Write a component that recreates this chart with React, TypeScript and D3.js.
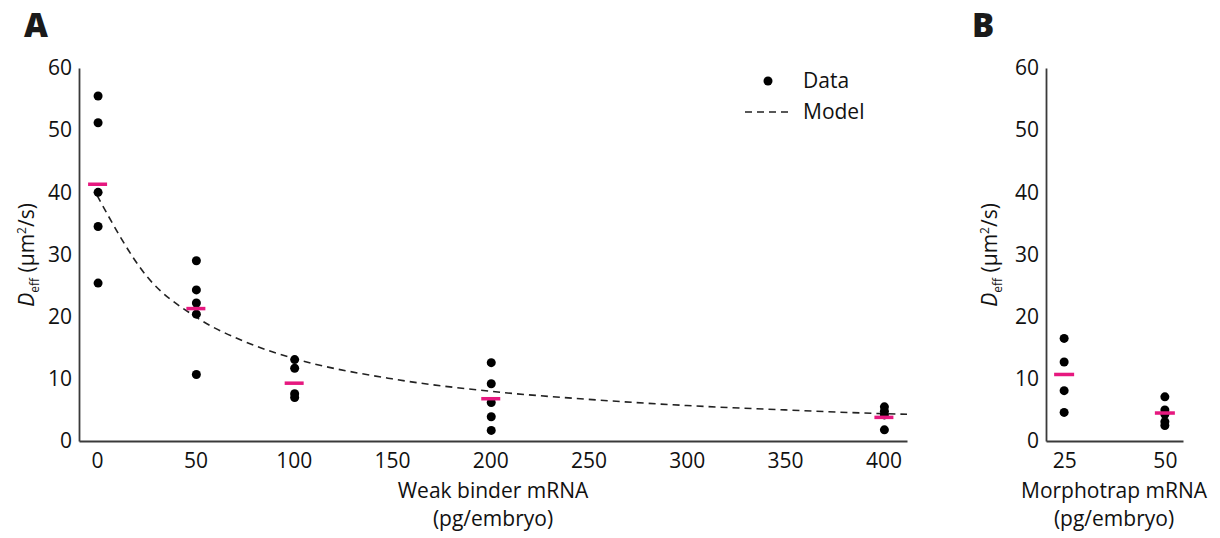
import { useEffect, useRef } from "react";
import * as d3 from "d3";

// panel A: weak binder dose series
const weakBinderDoses = [0, 50, 100, 200, 400];
const weakBinderValues = [
  [55.5, 51.2, 40.0, 34.5, 25.4],
  [29.0, 24.3, 22.2, 20.4, 10.7],
  [13.1, 11.7, 7.6, 7.0],
  [12.6, 9.2, 6.2, 3.9, 1.7],
  [5.5, 4.8, 4.2, 1.8],
];
const weakBinderMeans = [41.3, 21.3, 9.3, 6.8, 3.8];
const weakBinderTicks = [0, 50, 100, 150, 200, 250, 300, 350, 400];

// model curve
const modelDoses = [0, 25, 50, 75, 100, 150, 200, 250, 300, 350, 400, 412];
const modelValues = [39.5, 26.6, 20.0, 16.0, 13.3, 10.0, 8.0, 6.7, 5.7, 5.0, 4.4, 4.3];

// panel B: morphotrap
const morphotrapDoses = ["25", "50"];
const morphotrapValues = [
  [16.5, 12.7, 8.1, 4.6],
  [7.1, 5.0, 4.3, 3.1, 2.5],
];
const morphotrapMeans = [10.7, 4.5];

const deffTicks = [0, 10, 20, 30, 40, 50, 60];

const FONT = "'Open Sans', sans-serif";
const PINK = "#e6187f";
const AXIS = "#3a3a3a";
const INK = "#111";

function App() {
  const ref = useRef<SVGSVGElement>(null);

  useEffect(() => {
    const svg = d3.select(ref.current);
    svg.selectAll("*").remove();

    const top = 68;
    const bottom = 441;

    const y = d3.scaleLinear().domain([0, 60]).range([bottom, top]);
    const xA = d3.scaleLinear().domain([-9.2, 412]).range([79, 907]);
    const xB = d3
      .scalePoint<string>()
      .domain(morphotrapDoses)
      .range([1046, 1183])
      .padding(0.18);

    const styleAxis = (g: any) => {
      g.select(".domain").attr("stroke", AXIS).attr("stroke-width", 1.8);
      g.selectAll("text")
        .attr("font-family", FONT)
        .attr("font-size", 21)
        .attr("fill", INK);
    };

    const yLabel = (cx: number) => {
      const t = svg
        .append("text")
        .attr("transform", `translate(${cx},255) rotate(-90)`)
        .attr("text-anchor", "middle")
        .attr("font-family", FONT)
        .attr("font-size", 21)
        .attr("fill", INK);
      t.append("tspan").attr("font-style", "italic").text("D");
      t.append("tspan").attr("font-size", 12).attr("dy", 5).text("eff");
      t.append("tspan").attr("dy", -5).text(" (µm");
      t.append("tspan").attr("font-size", 12).attr("dy", -8).text("2");
      t.append("tspan").attr("dy", 8).text("/s)");
    };

    const xLabel = (cx: number, lines: string[]) => {
      lines.forEach((l, i) =>
        svg
          .append("text")
          .attr("x", cx)
          .attr("y", 498 + i * 28)
          .attr("text-anchor", "middle")
          .attr("font-family", FONT)
          .attr("font-size", 21)
          .attr("fill", INK)
          .text(l)
      );
    };

    // ----- panel A -----
    svg
      .append("g")
      .attr("transform", `translate(79,0)`)
      .call(d3.axisLeft(y).tickValues(deffTicks).tickSize(0).tickPadding(7))
      .call(styleAxis);

    svg
      .append("g")
      .attr("transform", `translate(0,${bottom})`)
      .call(
        d3.axisBottom(xA).tickValues(weakBinderTicks).tickSize(0).tickPadding(12)
      )
      .call(styleAxis);

    const line = d3
      .line<number>()
      .x((_, i) => xA(modelDoses[i]))
      .y((d) => y(d))
      .curve(d3.curveMonotoneX);

    svg
      .append("path")
      .attr("d", line(modelValues))
      .attr("fill", "none")
      .attr("stroke", "#222")
      .attr("stroke-width", 1.6)
      .attr("stroke-dasharray", "7,5");

    weakBinderDoses.forEach((dose, i) => {
      svg
        .append("g")
        .selectAll("circle")
        .data(weakBinderValues[i])
        .join("circle")
        .attr("cx", xA(dose) + 1)
        .attr("cy", (d) => y(d))
        .attr("r", 4.5)
        .attr("fill", "#000");
      svg
        .append("rect")
        .attr("x", xA(dose) - 9)
        .attr("y", y(weakBinderMeans[i]) - 1.75)
        .attr("width", 19)
        .attr("height", 3.5)
        .attr("fill", PINK);
    });

    yLabel(34);
    xLabel(493, ["Weak binder mRNA", "(pg/embryo)"]);

    // legend
    svg.append("circle").attr("cx", 768).attr("cy", 81).attr("r", 4.5).attr("fill", "#000");
    svg
      .append("line")
      .attr("x1", 745)
      .attr("x2", 792)
      .attr("y1", 112)
      .attr("y2", 112)
      .attr("stroke", "#222")
      .attr("stroke-width", 1.6)
      .attr("stroke-dasharray", "7,5");
    [["Data", 88], ["Model", 119]].forEach(([t, yy]) =>
      svg
        .append("text")
        .attr("x", 803)
        .attr("y", yy as number)
        .attr("font-family", FONT)
        .attr("font-size", 21)
        .attr("fill", INK)
        .text(t as string)
    );

    // ----- panel B -----
    svg
      .append("g")
      .attr("transform", `translate(1046,0)`)
      .call(d3.axisLeft(y).tickValues(deffTicks).tickSize(0).tickPadding(7))
      .call(styleAxis);

    svg
      .append("g")
      .attr("transform", `translate(0,${bottom})`)
      .call(d3.axisBottom(xB).tickSize(0).tickPadding(12))
      .call(styleAxis);

    morphotrapDoses.forEach((dose, i) => {
      const cx = xB(dose) as number;
      svg
        .append("g")
        .selectAll("circle")
        .data(morphotrapValues[i])
        .join("circle")
        .attr("cx", cx)
        .attr("cy", (d) => y(d))
        .attr("r", 4.5)
        .attr("fill", "#000");
      svg
        .append("rect")
        .attr("x", cx - 10)
        .attr("y", y(morphotrapMeans[i]) - 1.75)
        .attr("width", 20)
        .attr("height", 3.5)
        .attr("fill", PINK);
    });

    yLabel(997);
    xLabel(1114, ["Morphotrap mRNA", "(pg/embryo)"]);

    // panel letters
    [["A", 24], ["B", 972]].forEach(([t, xx]) =>
      svg
        .append("text")
        .attr("x", xx as number)
        .attr("y", 37)
        .attr("font-family", FONT)
        .attr("font-weight", 800)
        .attr("font-size", 33)
        .attr("fill", "#1a1a1a")
        .text(t as string)
    );
  }, []);

  return (
    <svg
      ref={ref}
      width={1220}
      height={538}
      style={{ position: "absolute", left: 0, top: 0, background: "#fff" }}
    ></svg>
  );
}

export default App;
